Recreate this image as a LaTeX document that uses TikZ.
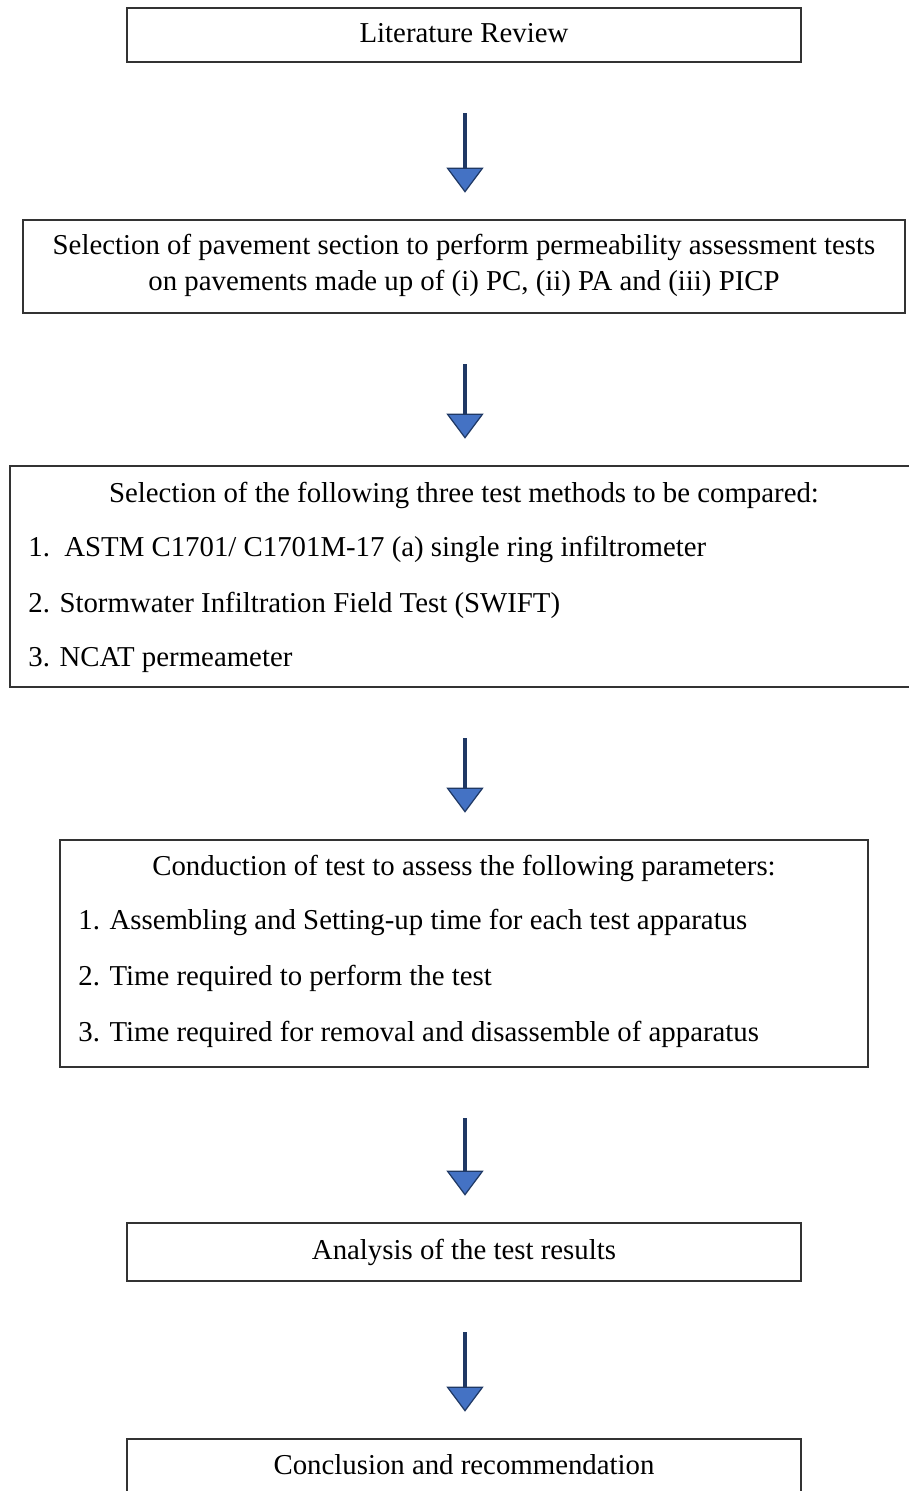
\documentclass[tikz,border=0pt]{standalone}
\usepackage{fontspec}
\setmainfont{Liberation Serif}
\usetikzlibrary{arrows.meta}
\definecolor{shaftblue}{HTML}{1F3864}
\definecolor{headblue}{HTML}{4472C4}
\definecolor{boxgray}{HTML}{333333}
\tikzset{
	box/.style={draw=boxgray, line width=1.5pt, inner sep=0pt},
	txt/.style={anchor=base, inner sep=0pt, font=\fontsize{16.4}{19}\selectfont},
	lefttxt/.style={txt, anchor=base west},
	flowarrow/.style={draw=shaftblue, line width=2.2pt, shorten <=1cm, shorten >=0.52cm,
		-{Triangle[width=0.74cm, length=0.5cm, fill=headblue, line width=0.7pt]}}
}
\begin{document}
\begin{tikzpicture}[x=0.02cm, y=-0.02cm]
		\useasboundingbox (0,0) rectangle (909,1491);
		
		\node[box, minimum width=13.48cm, minimum height=1.08cm] (b1) at (464,35) {};
		\node[box, minimum width=17.64cm, minimum height=1.86cm] (b2) at (464,266.5) {};
		\node[box, minimum width=18.16cm, minimum height=4.42cm] (b3) at (464,576.5) {};
		\node[box, minimum width=16.16cm, minimum height=4.54cm] (b4) at (464,953.5) {};
		\node[box, minimum width=13.48cm, minimum height=1.16cm] (b5) at (464,1252) {};
		\node[box, minimum width=13.48cm, minimum height=1.62cm] (b6) at (464,1479.5) {};
		
		\node[txt] (t1) at (464,42) {Literature Review};
		\node[txt] (t2a) at (464,254) {Selection of pavement section to perform permeability assessment tests};
		\node[txt] (t2b) at (464,290) {on pavements made up of (i) PC, (ii) PA and (iii) PICP};
		\node[txt] (t3) at (464,502) {Selection of the following three test methods to be compared:};
		\node[lefttxt] (t3a) at (28,556) {1.\ \ ASTM C1701/ C1701M-17 (a) single ring infiltrometer};
		\node[lefttxt] (t3b) at (28,612) {2. Stormwater Infiltration Field Test (SWIFT)};
		\node[lefttxt] (t3c) at (28,666) {3. NCAT permeameter};
		\node[txt] (t4) at (464,875) {Conduction of test to assess the following parameters:};
		\node[lefttxt] (t4a) at (78,929) {1. Assembling and Setting-up time for each test apparatus};
		\node[lefttxt] (t4b) at (78,985) {2. Time required to perform the test};
		\node[lefttxt] (t4c) at (78,1041) {3. Time required for removal and disassemble of apparatus};
		\node[txt] (t5) at (464,1259) {Analysis of the test results};
		\node[txt] (t6) at (464,1474) {Conclusion and recommendation};
		
		\foreach \a/\b in {b1/b2, b2/b3, b3/b4, b4/b5, b5/b6}
		{
			\draw[flowarrow] ([xshift=0.02cm]\a.south) -- ([xshift=0.02cm]\b.north);
		}
	\end{tikzpicture}
\end{document}
